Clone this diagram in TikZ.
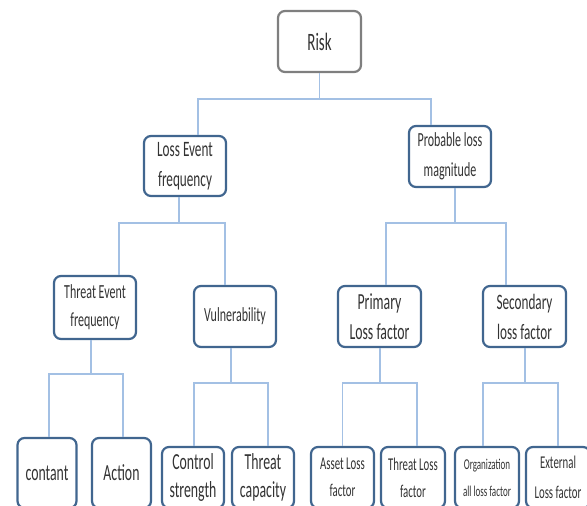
\documentclass[tikz,border=0pt]{standalone}
\usepackage{fontspec}
\newfontfamily\narrowfont[FakeStretch=0.6]{Carlito}
\definecolor{boxblue}{HTML}{41668F}
\definecolor{boxgray}{HTML}{7F7F7F}
\definecolor{linkblue}{HTML}{A3C0E4}
\definecolor{textgray}{HTML}{333333}
\begin{document}
\begin{tikzpicture}[x=1pt,y=-1pt,
    box/.style={draw=boxblue, line width=2.2pt, rounded corners=7pt, fill=white,
        align=center, text=textgray, inner sep=1pt, minimum height=61pt},
    link/.style={draw=linkblue, line width=1.3pt}]
    \newcommand\fsz[2]{\narrowfont\fontsize{#1}{#2}\selectfont}
    \useasboundingbox (0,0) rectangle (587,506);
    \clip (0,0) rectangle (587,506);

    % top
    \node[box, draw=boxgray, minimum width=83pt, font=\fsz{25}{30}] (risk) at (319.5,41.5) {Risk};
    \node[box, minimum width=82pt, minimum height=60pt, font=\fsz{22}{30}] (lef) at (185,166) {Loss Event\\frequency};
    \node[box, minimum width=82pt, font=\fsz{20}{30}] (plm) at (450,156.5) {Probable loss\\magnitude};

    % middle
    \node[box, minimum width=82pt, minimum height=63pt, font=\fsz{20}{28}] (tef) at (95,307.5) {Threat Event\\frequency};
    \node[box, minimum width=82pt, font=\fsz{20}{28}] (vul) at (235,316.5) {Vulnerability};
    \node[box, minimum width=83pt, font=\fsz{23}{30}] (pri) at (379.5,316.5) {Primary\\Loss factor};
    \node[box, minimum width=83pt, font=\fsz{22}{30}] (sec) at (524.5,316.5) {Secondary\\loss factor};

    % bottom
    \node[box, minimum width=59pt, minimum height=70pt, font=\fsz{23}{28}] (cont) at (47,473) {contant};
    \node[box, minimum width=59pt, minimum height=70pt, font=\fsz{23}{28}] (act) at (121.5,473) {Action};
    \node[box, minimum width=62pt, font=\fsz{23}{28}] (ctrl) at (193,477.5) {Control\\strength};
    \node[box, minimum width=62pt, font=\fsz{23}{28}] (tcap) at (263,477.5) {Threat\\capacity};
    \node[box, minimum width=63pt, font=\fsz{18}{27}] (asset) at (342.5,477.5) {Asset Loss\\factor};
    \node[box, minimum width=64pt, font=\fsz{18}{27}] (tloss) at (413,477.5) {Threat Loss\\factor};
    \node[box, minimum width=64pt, font=\fsz{15}{27}] (org) at (487,477.5) {Organization\\all loss factor};
    \node[box, minimum width=64pt, font=\fsz{18}{30}] (ext) at (558,477.5) {External\\Loss factor};

    % connectors
    \draw[link] (risk.south) -- ++(0,26) coordinate (j1);
    \draw[link] ([xshift=13pt]lef.north) |- (j1) -| ([xshift=-19pt]plm.north);

    \draw[link] ([xshift=-6pt]lef.south) -- ++(0,26) coordinate (j2);
    \draw[link] ([xshift=24pt]tef.north) |- (j2) -| ([xshift=-10pt]vul.north);
    \draw[link] ([xshift=5pt]plm.south) -- ++(0,35) coordinate (j3);
    \draw[link] ([xshift=6.5pt]pri.north) |- (j3) -| ([xshift=-18.5pt]sec.north);

    \draw[link] ([xshift=-4pt]tef.south) -- ++(0,34) coordinate (j4);
    \draw[link] ([xshift=2pt]cont.north) |- (j4) -| ([xshift=1.5pt]act.north);
    \draw[link] ([xshift=-4pt]vul.south) -- ++(0,35) coordinate (j5);
    \draw[link] ([xshift=1pt]ctrl.north) |- (j5) -| ([xshift=5pt]tcap.north);
    \draw[link] ([xshift=0.5pt]pri.south) -- ++(0,35) coordinate (j6);
    \draw[link] (asset.north) |- (j6) -| ([xshift=4pt]tloss.north);
    \draw[link] ([xshift=0.5pt]sec.south) -- ++(0,35) coordinate (j7);
    \draw[link] ([xshift=-4pt]org.north) |- (j7) -| (ext.north);
\end{tikzpicture}
\end{document}
